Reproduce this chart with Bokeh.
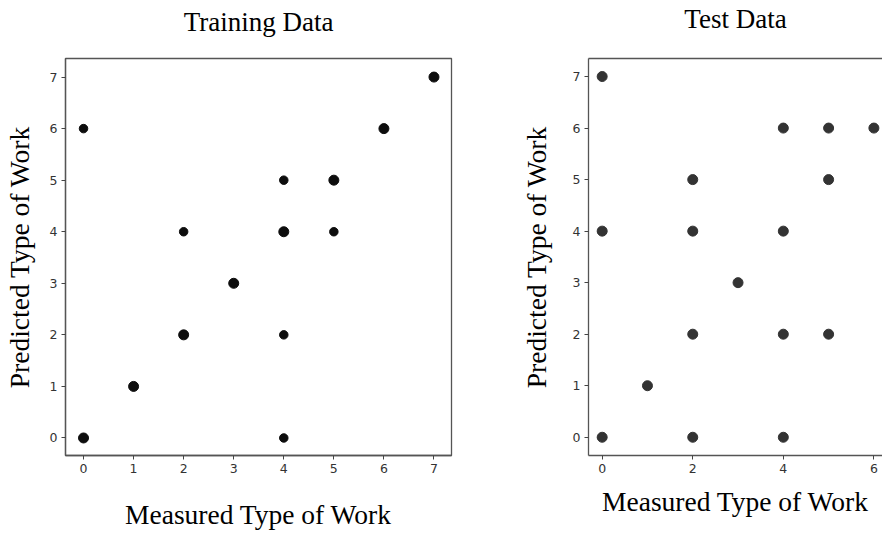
from bokeh.plotting import figure
from bokeh.layouts import row
from bokeh.models import Range1d, FixedTicker, LinearAxis, ColumnDataSource
from bokeh.embed import file_html
from bokeh.resources import INLINE

# ---- data ----
train_measured = [0, 0, 1, 2, 2, 3, 4, 4, 4, 4, 5, 5, 6, 7]
train_predicted = [6, 0, 1, 4, 2, 3, 5, 4, 2, 0, 5, 4, 6, 7]
train_count = [1, 3, 2, 1, 3, 2, 1, 3, 1, 1, 2, 1, 2, 2]

test_measured = [0, 0, 0, 1, 2, 2, 2, 2, 3, 4, 4, 4, 4, 5, 5, 5, 6]
test_predicted = [7, 4, 0, 1, 5, 4, 2, 0, 3, 6, 4, 2, 0, 6, 5, 2, 6]

train_ticks = [0, 1, 2, 3, 4, 5, 6, 7]
test_xticks = [0, 2, 4, 6]
test_yticks = [0, 1, 2, 3, 4, 5, 6, 7]

SERIF = "Liberation Serif"
SANS = "DejaVu Sans"


def style_axis(ax, ticks):
    ax.ticker = FixedTicker(ticks=ticks)
    ax.major_label_text_font = SANS
    ax.major_label_text_font_size = "12.5px"
    ax.major_label_text_color = "#333333"
    ax.major_tick_out = 4
    ax.major_tick_in = 0
    ax.minor_tick_line_color = None
    ax.major_tick_line_color = "#444444"
    ax.axis_line_color = "#555555"
    ax.axis_line_width = 1.3
    ax.axis_label_text_font = SERIF
    ax.axis_label_text_font_style = "normal"
    ax.axis_label_text_font_size = "27.5px"
    ax.axis_label_text_color = "#000000"
    ax.major_label_standoff = 4


def title_axis(text, standoff, line_color):
    # tick-less top axis whose label serves as the chart title
    return LinearAxis(ticker=FixedTicker(ticks=[]), axis_label=text,
                      axis_label_standoff=standoff, axis_label_text_font=SERIF,
                      axis_label_text_font_style="normal", axis_label_text_font_size="27px",
                      axis_label_text_color="#000000", major_tick_out=0, major_tick_in=0,
                      major_label_standoff=0, major_tick_line_color=None,
                      minor_tick_line_color=None, axis_line_color=line_color,
                      axis_line_width=1.3)


# ---- training figure ----
tsrc = ColumnDataSource(dict(
    x=train_measured, y=train_predicted,
    s=[10 if c > 1 else 8.5 for c in train_count],
))
p1 = figure(width=460, height=544, output_backend="svg", toolbar_location=None,
            x_range=Range1d(-0.36, 7.35), y_range=Range1d(-0.34, 7.36),
            min_border_left=65, min_border_right=9, min_border_top=55, min_border_bottom=84)
p1.grid.visible = False
p1.outline_line_color = "#555555"
p1.outline_line_width = 1.3
p1.scatter("x", "y", size="s", source=tsrc, color="#0d0d0d")
p1.xaxis.axis_label = "Measured Type of Work"
p1.yaxis.axis_label = "Predicted Type of Work"
style_axis(p1.xaxis[0], train_ticks)
style_axis(p1.yaxis[0], train_ticks)
p1.xaxis.axis_label_standoff = 23
p1.yaxis.axis_label_standoff = 12
p1.add_layout(title_axis("Training Data", 22, None), "above")

# ---- test figure ----
p2 = figure(width=422, height=544, output_backend="svg", toolbar_location=None,
            x_range=Range1d(-0.302, 6.19), y_range=Range1d(-0.354, 7.35),
            min_border_left=128, min_border_right=0, min_border_top=57, min_border_bottom=89)
p2.grid.visible = False
p2.outline_line_color = None
p2.scatter(test_measured, test_predicted, size=10, color="#333333")
p2.xaxis.axis_label = "Measured Type of Work"
p2.yaxis.axis_label = "Predicted Type of Work"
style_axis(p2.xaxis[0], test_xticks)
style_axis(p2.yaxis[0], test_yticks)
p2.xaxis.axis_label_standoff = 10
p2.yaxis.axis_label_standoff = 18
p2.add_layout(title_axis("Test Data", 25, "#555555"), "above")

layout = row(p1, p2, spacing=0)
open("out.html", "w").write(file_html(layout, INLINE))
